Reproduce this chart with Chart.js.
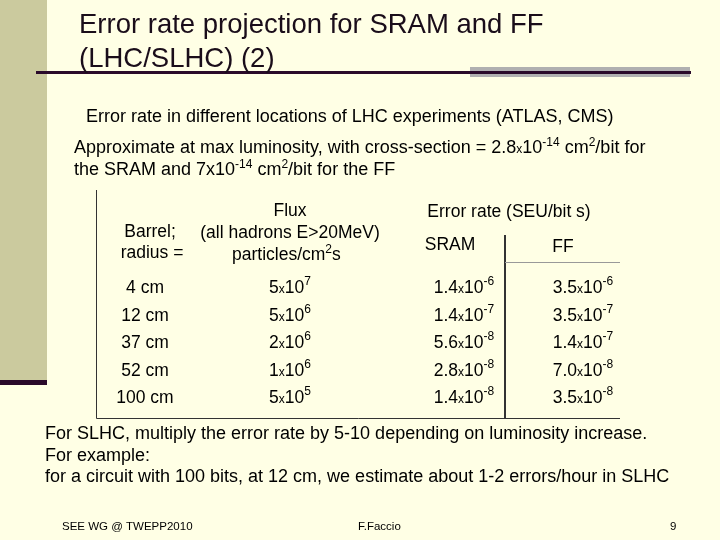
<!DOCTYPE html>
<html><head><meta charset="utf-8">
<script src="https://cdn.jsdelivr.net/npm/chart.js@4"></script>
<style>html,body{margin:0;padding:0;background:#FFFFE5;}#w{width:720px;height:540px;}</style>
</head><body><div id="w"><canvas id="c" width="720" height="540"></canvas></div>
<script>
const radii = ["4 cm","12 cm","37 cm","52 cm","100 cm"];
const fluxMant = [5,5,2,1,5];
const fluxExp = [7,6,6,6,5];
const sramMant = ["1.4","1.4","5.6","2.8","1.4"];
const sramExp = [-6,-7,-8,-8,-8];
const ffMant = ["3.5","3.5","1.4","7.0","3.5"];
const ffExp = [-6,-7,-7,-8,-8];
const colX = {radius:145, flux:290, sram:464, ff:583};

const F = "'Liberation Sans', Arial, sans-serif";
const TXT = "#1a0d1a";

function drawSci(ctx, mant, exp, x, y, align, size){
  const big = size+"px "+F, small = Math.round(size*0.68)+"px "+F, sup = Math.round(size*0.7)+"px "+F;
  const parts = [[String(mant),big,0],["x",small,0],["10",big,0],[String(exp),sup,-size*0.45]];
  let w=0; parts.forEach(p=>{ctx.font=p[1]; w+=ctx.measureText(p[0]).width;});
  let cx = align==="center"? x-w/2 : x;
  ctx.textAlign="left";
  parts.forEach(p=>{ctx.font=p[1]; ctx.fillText(p[0],cx,y+p[2]); cx+=ctx.measureText(p[0]).width;});
}

const slide = {
  id:'slide',
  beforeDraw(chart){
    const ctx=chart.ctx;
    ctx.save();
    ctx.fillStyle="#FFFFE5"; ctx.fillRect(0,0,720,540);
    ctx.fillStyle="#CBCA9E"; ctx.fillRect(0,0,47,384);
    ctx.fillStyle="#2a0a2a"; ctx.fillRect(0,380,47,5);
    ctx.fillStyle="#b0b0b0"; ctx.fillRect(470,67,220,10);
    ctx.fillStyle="#2a0a2a"; ctx.fillRect(36,71,655,3);
    ctx.restore();
  },
  afterDatasetsDraw(chart){
    const ctx=chart.ctx;
    ctx.save();
    ctx.fillStyle=TXT; ctx.textBaseline="alphabetic"; ctx.textAlign="left";
    ctx.font="27.5px "+F;
    ctx.fillText("Error rate projection for SRAM and FF",79,33);
    ctx.fillText("(LHC/SLHC) (2)",79,67);
    ctx.fillStyle="#000";
    ctx.font="18px "+F;
    ctx.fillText("Error rate in different locations of LHC experiments (ATLAS, CMS)",86,122);
    let x=74,y=153;
    const seg=(t,f,dy)=>{ctx.font=f; ctx.fillText(t,x,y+(dy||0)); x+=ctx.measureText(t).width;};
    const B="18px "+F, S="12px "+F, T="17.5px "+F;
    seg("Approximate at max luminosity, with cross-section = 2.8",B); seg("x",S); seg("10",B); seg("-14",S,-7); seg(" cm",B); seg("2",S,-7); seg("/bit for",B);
    x=74;y=175;
    seg("the SRAM and 7x10",B); seg("-14",S,-7); seg(" cm",B); seg("2",S,-7); seg("/bit for the FF",B);
    // table header
    ctx.font=T; ctx.textAlign="center";
    ctx.fillText("Barrel;",150,237); ctx.fillText("radius =",152,258);
    ctx.fillText("Flux",290,216); ctx.fillText("(all hadrons E>20MeV)",290,238);
    ctx.textAlign="left";
    x=232;y=260; seg("particles/cm",T); seg("2",S,-7); seg("s",T);
    ctx.textAlign="center"; ctx.font=T;
    ctx.fillText("Error rate (SEU/bit s)",509,217);
    ctx.fillText("SRAM",450,250); ctx.fillText("FF",563,252);
    ctx.strokeStyle="#333"; ctx.lineWidth=1;
    ctx.beginPath();
    ctx.moveTo(96.5,190); ctx.lineTo(96.5,418.5); ctx.lineTo(620,418.5);
    ctx.stroke();
    ctx.lineWidth=2; ctx.beginPath(); ctx.moveTo(505,235); ctx.lineTo(505,419); ctx.stroke();
    ctx.lineWidth=1; ctx.strokeStyle="#999"; ctx.beginPath(); ctx.moveTo(505,262.5); ctx.lineTo(620,262.5); ctx.stroke();
    ctx.fillStyle="#000";
    chart.data.datasets.forEach((ds,di)=>{
      chart.getDatasetMeta(di).data.forEach((pt,i)=>{
        const px=pt.x, py=pt.y+6;
        if(ds.label==="radius"){ctx.font=T; ctx.textAlign="center"; ctx.fillText(radii[i],px,py);}
        else if(ds.label==="flux") drawSci(ctx,fluxMant[i],fluxExp[i],px,py,"center",17.5);
        else if(ds.label==="sram") drawSci(ctx,sramMant[i],sramExp[i],px,py,"center",17.5);
        else drawSci(ctx,ffMant[i],ffExp[i],px,py,"center",17.5);
      });
    });
    ctx.textAlign="left"; ctx.font=B; ctx.fillStyle="#000";
    ctx.fillText("For SLHC, multiply the error rate by 5-10 depending on luminosity increase.",45,439);
    ctx.fillText("For example:",45,461);
    ctx.fillText("for a circuit with 100 bits, at 12 cm, we estimate about 1-2 errors/hour in SLHC",45,482);
    ctx.font="11.5px "+F;
    ctx.fillText("SEE WG @ TWEPP2010",62,530);
    ctx.fillText("F.Faccio",358,530);
    ctx.fillText("9",670,530);
    ctx.restore();
  }
};

const mk=(label,vals)=>({label,data:vals.map((v,i)=>({x:colX[label],y:i})),pointRadius:0,showLine:false});
new Chart(document.getElementById('c'),{
  type:'scatter',
  data:{datasets:[mk('radius',radii),mk('flux',fluxMant),mk('sram',sramMant),mk('ff',ffMant)]},
  options:{
    responsive:false,animation:false,devicePixelRatio:1,
    layout:{padding:0},
    plugins:{legend:{display:false},tooltip:{enabled:false}},
    scales:{
      x:{type:'linear',min:0,max:720,display:false},
      y:{type:'linear',min:-287/27.5,max:(540-287)/27.5,reverse:true,display:false}
    }
  },
  plugins:[slide]
});
</script></body></html>
